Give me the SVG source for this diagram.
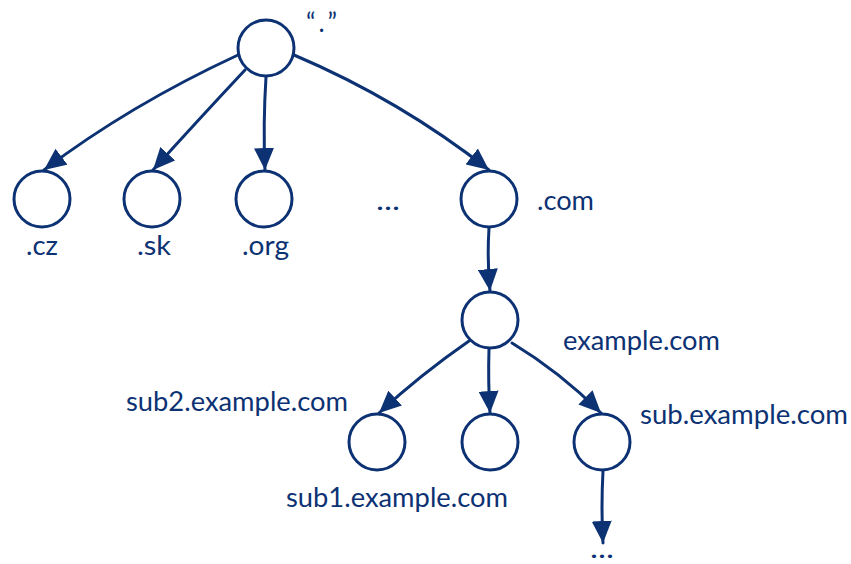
<svg xmlns="http://www.w3.org/2000/svg" width="851" height="564" viewBox="0 0 851 564">
  <style>
    .node { fill: #ffffff; stroke: #0d3273; stroke-width: 3; }
    .edge { fill: none; stroke: #0d3273; stroke-width: 3; stroke-linecap: round; }
    .lbl { font-family: Lato, "Noto Sans", "Liberation Sans", sans-serif; font-size: 26px; fill: #0d3273; }
  </style>
  <defs>
    <marker id="arrow" viewBox="0 0 22 20" refX="22" refY="10" markerWidth="22" markerHeight="20" markerUnits="userSpaceOnUse" orient="auto">
      <path d="M0,0 L22,10 L0,20 Z" fill="#0d3273"/>
    </marker>
  </defs>

  <!-- connectors -->
  <g id="edges">
    <path class="edge" marker-end="url(#arrow)" d="M238,55 Q130,105 44,170"/>
    <path class="edge" marker-end="url(#arrow)" d="M245,70 Q200,118 153,170"/>
    <path class="edge" marker-end="url(#arrow)" d="M266,77 Q263,124 265,170"/>
    <path class="edge" marker-end="url(#arrow)" d="M294,55 Q400,100 489,170"/>
    <path class="edge" marker-end="url(#arrow)" d="M489,228 Q487,260 490,291"/>
    <path class="edge" marker-end="url(#arrow)" d="M469,341 Q420,375 379,413"/>
    <path class="edge" marker-end="url(#arrow)" d="M489,349 Q488,382 490,413"/>
    <path class="edge" marker-end="url(#arrow)" d="M512,343 Q560,372 601,413"/>
    <path class="edge" marker-end="url(#arrow)" d="M603,471 Q601,508 603,543"/>
  </g>

  <!-- root -->
  <g id="root">
    <circle class="node" cx="266" cy="48" r="28"/>
    <text class="lbl" x="306" y="32" textLength="31" lengthAdjust="spacing">“ . ”</text>
  </g>

  <!-- top-level domains -->
  <g id="cz">
    <circle class="node" cx="42" cy="199" r="28"/>
    <text class="lbl" x="26" y="255" textLength="32" lengthAdjust="spacingAndGlyphs">.cz</text>
  </g>
  <g id="sk">
    <circle class="node" cx="152" cy="199" r="28"/>
    <text class="lbl" x="137" y="255" textLength="34" lengthAdjust="spacingAndGlyphs">.sk</text>
  </g>
  <g id="org">
    <circle class="node" cx="264" cy="199" r="28"/>
    <text class="lbl" x="242" y="255" textLength="47" lengthAdjust="spacingAndGlyphs">.org</text>
  </g>
  <g id="more-tld">
    <text class="lbl" x="376" y="210" textLength="24" lengthAdjust="spacingAndGlyphs">...</text>
  </g>
  <g id="com">
    <circle class="node" cx="489" cy="199" r="28"/>
    <text class="lbl" x="537" y="210" textLength="57" lengthAdjust="spacingAndGlyphs">.com</text>
  </g>

  <!-- second level -->
  <g id="example">
    <circle class="node" cx="490" cy="320" r="28"/>
    <text class="lbl" x="563" y="350" textLength="157" lengthAdjust="spacingAndGlyphs">example.com</text>
  </g>

  <!-- subdomains -->
  <g id="sub2">
    <circle class="node" cx="377" cy="442" r="28"/>
    <text class="lbl" x="126" y="411" textLength="222" lengthAdjust="spacingAndGlyphs">sub2.example.com</text>
  </g>
  <g id="sub1">
    <circle class="node" cx="490" cy="442" r="28"/>
    <text class="lbl" x="286" y="507" textLength="222" lengthAdjust="spacingAndGlyphs">sub1.example.com</text>
  </g>
  <g id="sub">
    <circle class="node" cx="602" cy="442" r="28"/>
    <text class="lbl" x="640" y="424" textLength="208" lengthAdjust="spacingAndGlyphs">sub.example.com</text>
  </g>
  <g id="more-sub">
    <text class="lbl" x="590" y="558" textLength="24" lengthAdjust="spacingAndGlyphs">...</text>
  </g>
</svg>
